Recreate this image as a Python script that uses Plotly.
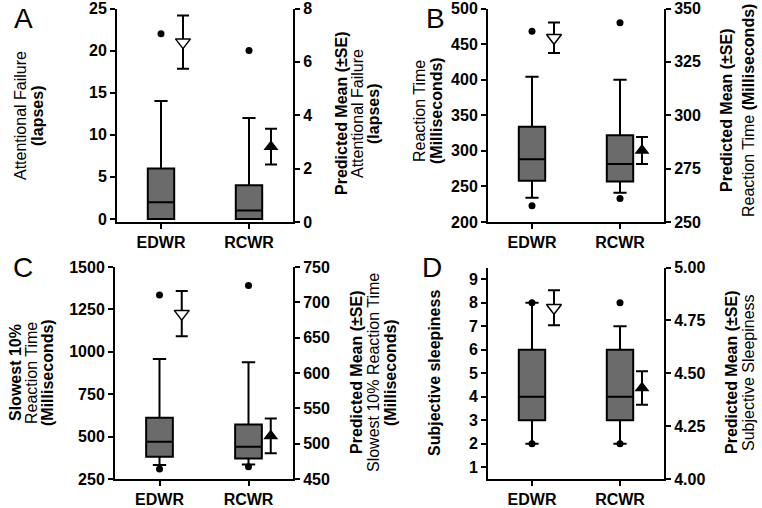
import plotly.graph_objects as go

W, H = 762, 508

groups = ["EDWR", "RCWR"]

# Panel A - attentional failure (lapses)
a_q1 = [0, 0]
a_med = [2, 1]
a_q3 = [6, 4]
a_lo = [0, 0]
a_hi = [14, 12]
a_out = [[22], [20]]
a_pred = [6.74, 2.82]
a_se = [1.0, 0.67]

# Panel B - reaction time
b_q1 = [258, 257]
b_med = [288, 281.5]
b_q3 = [334, 322]
b_lo = [234, 241]
b_hi = [404, 400]
b_out = [[468, 223], [480, 233]]
b_pred = [336.3, 283.5]
b_se = [7.1, 6.3]

# Panel C - slowest 10% reaction time
c_q1 = [381, 371]
c_med = [469, 440]
c_q3 = [611, 572]
c_lo = [332, 336]
c_hi = [957, 938]
c_out = [[1335, 309], [1391, 322]]
c_pred = [684, 511]
c_se = [32, 24.5]

# Panel D - subjective sleepiness
d_q1 = [3, 3]
d_med = [4, 4]
d_q3 = [6, 6]
d_lo = [2, 2]
d_hi = [8, 7]
d_out = [[8, 2], [8, 2]]
d_pred = [4.81, 4.43]
d_se = [0.083, 0.079]

FONT = "Liberation Sans, Arial, sans-serif"
BOX_FILL = "#6b6b6b"


def px_x(px):
    return px / W


def px_y(py):
    return 1 - py / H


fig = go.Figure()


def add_panel(n, q1, med, q3, lo, hi, outs, pred, se):
    xa = "x" if n == 1 else f"x{n}"
    yl = "y" if n == 1 else f"y{2 * n - 1}"
    yr = f"y{2 * n}"
    fig.add_trace(go.Box(x=[0, 1], q1=q1, median=med, q3=q3, lowerfence=lo,
                         upperfence=hi, xaxis=xa, yaxis=yl, width=0.3,
                         whiskerwidth=0.5, fillcolor=BOX_FILL, boxpoints=False,
                         line=dict(color="black", width=2), showlegend=False))
    ox, oy = [], []
    for i, vals in enumerate(outs):
        for v in vals:
            ox.append(i)
            oy.append(v)
    fig.add_trace(go.Scatter(x=ox, y=oy, mode="markers", xaxis=xa, yaxis=yl,
                             marker=dict(color="black", size=7),
                             showlegend=False, cliponaxis=False))
    # predicted means with SE bars on the right axis
    fig.add_trace(go.Scatter(x=[0.25], y=[pred[0]], mode="markers", xaxis=xa, yaxis=yr,
                             error_y=dict(type="data", array=[se[0]], color="black",
                                          thickness=2, width=6),
                             marker=dict(symbol="triangle-down", size=13, color="white",
                                         line=dict(color="black", width=1.5)),
                             showlegend=False))
    fig.add_trace(go.Scatter(x=[1.25], y=[pred[1]], mode="markers", xaxis=xa, yaxis=yr,
                             error_y=dict(type="data", array=[se[1]], color="black",
                                          thickness=2, width=6),
                             marker=dict(symbol="triangle-up", size=13, color="black"),
                             showlegend=False))


add_panel(1, a_q1, a_med, a_q3, a_lo, a_hi, a_out, a_pred, a_se)
add_panel(2, b_q1, b_med, b_q3, b_lo, b_hi, b_out, b_pred, b_se)
add_panel(3, c_q1, c_med, c_q3, c_lo, c_hi, c_out, c_pred, c_se)
add_panel(4, d_q1, d_med, d_q3, d_lo, d_hi, d_out, d_pred, d_se)

tickfont = dict(family=FONT, size=16, color="black")
axis_common = dict(showline=True, linecolor="black", linewidth=2, ticks="outside",
                   ticklen=5, tickwidth=2, tickcolor="black", showgrid=False,
                   zeroline=False, tickfont=tickfont, automargin=False)

# pixel boxes of each panel: left, right, top, bottom
boxes = {1: (117, 293, 8.5, 222), 2: (488, 664, 8.5, 222),
         3: (115, 293, 267, 479), 4: (488, 664, 267.5, 479)}
left_ranges = {1: [-0.36, 25], 2: [200, 500], 3: [250, 1500], 4: [0.5, 9.5]}
left_ticks = {1: [0, 5, 10, 15, 20, 25], 2: [200, 250, 300, 350, 400, 450, 500],
              3: [250, 500, 750, 1000, 1250, 1500], 4: [1, 2, 3, 4, 5, 6, 7, 8, 9]}
right_ranges = {1: [0, 8], 2: [250, 350], 3: [450, 750], 4: [4, 5]}
right_ticks = {1: [0, 2, 4, 6, 8], 2: [250, 275, 300, 325, 350],
               3: [450, 500, 550, 600, 650, 700, 750], 4: [4, 4.25, 4.5, 4.75, 5]}


def bold(vals, fmt="{}"):
    return ["<b>" + fmt.format(v) + "</b>" for v in vals]


layout_axes = {}
for n, (l, r, t, b) in boxes.items():
    xk = "xaxis" if n == 1 else f"xaxis{n}"
    ylk = "yaxis" if n == 1 else f"yaxis{2 * n - 1}"
    yrk = f"yaxis{2 * n}"
    xa = "x" if n == 1 else f"x{n}"
    yl = "y" if n == 1 else f"y{2 * n - 1}"
    ydom = [px_y(b), px_y(t)]
    layout_axes[xk] = dict(axis_common, domain=[px_x(l), px_x(r)], range=[-0.5, 1.5],
                           tickvals=[0, 1], ticktext=bold(groups), anchor=yl)
    layout_axes[ylk] = dict(axis_common, domain=ydom, range=left_ranges[n],
                            tickvals=left_ticks[n], ticktext=bold(left_ticks[n]),
                            anchor=xa)
    rfmt = "{:.2f}" if n == 4 else "{}"
    layout_axes[yrk] = dict(axis_common, range=right_ranges[n], tickvals=right_ticks[n],
                            ticktext=bold(right_ticks[n], rfmt),
                            overlaying=yl, side="right", anchor=xa)

fig.update_layout(template="none", width=W, height=H, margin=dict(l=0, r=0, t=0, b=0),
                  paper_bgcolor="white", plot_bgcolor="white", showlegend=False,
                  font=dict(family=FONT, color="black"), **layout_axes)

# rotated axis titles: (x px, y px, text)
titles = [
    (20, 116, "Attentional Failure"), (37, 116, "<b>(lapses)</b>"),
    (341, 114, "<b>Predicted Mean (±SE)</b>"), (357, 114, "Attentional Failure"),
    (373, 114, "<b>(lapses)</b>"),
    (419, 111, "Reaction Time"), (436, 111, "<b>(Milliseconds)</b>"),
    (726, 111, "<b>Predicted Mean (±SE)</b>"), (748, 111, "Reaction Time <b>(Milliseconds)</b>"),
    (15, 373, "<b>Slowest 10%</b>"), (31, 373, "Reaction Time"),
    (47, 373, "<b>(Milliseconds)</b>"),
    (356, 373, "<b>Predicted Mean (±SE)</b>"), (373, 373, "Slowest 10% Reaction Time"),
    (390, 373, "<b>(Milliseconds)</b>"),
    (434, 373, "<b>Subjective sleepiness</b>"),
    (731, 373, "<b>Predicted Mean (±SE)</b>"), (748, 373, "Subjective Sleepiness"),
]
for px, py, txt in titles:
    fig.add_annotation(x=px_x(px), y=px_y(py), xref="paper", yref="paper", text=txt,
                       textangle=-90, showarrow=False, xanchor="center", yanchor="middle",
                       font=dict(family=FONT, size=16, color="black"))

letters = [(23, 18, "A"), (435, 18, "B"), (23, 267, "C"), (432, 267, "D")]
for px, py, txt in letters:
    fig.add_annotation(x=px_x(px), y=px_y(py), xref="paper", yref="paper", text=txt,
                       showarrow=False, xanchor="center", yanchor="middle",
                       font=dict(family=FONT, size=28, color="black"))

# drop the browser's default body margin so the figure fills the window exactly
fig.write_html("out.html", config={"displayModeBar": False},
               post_script="document.body.style.margin = '0';")
